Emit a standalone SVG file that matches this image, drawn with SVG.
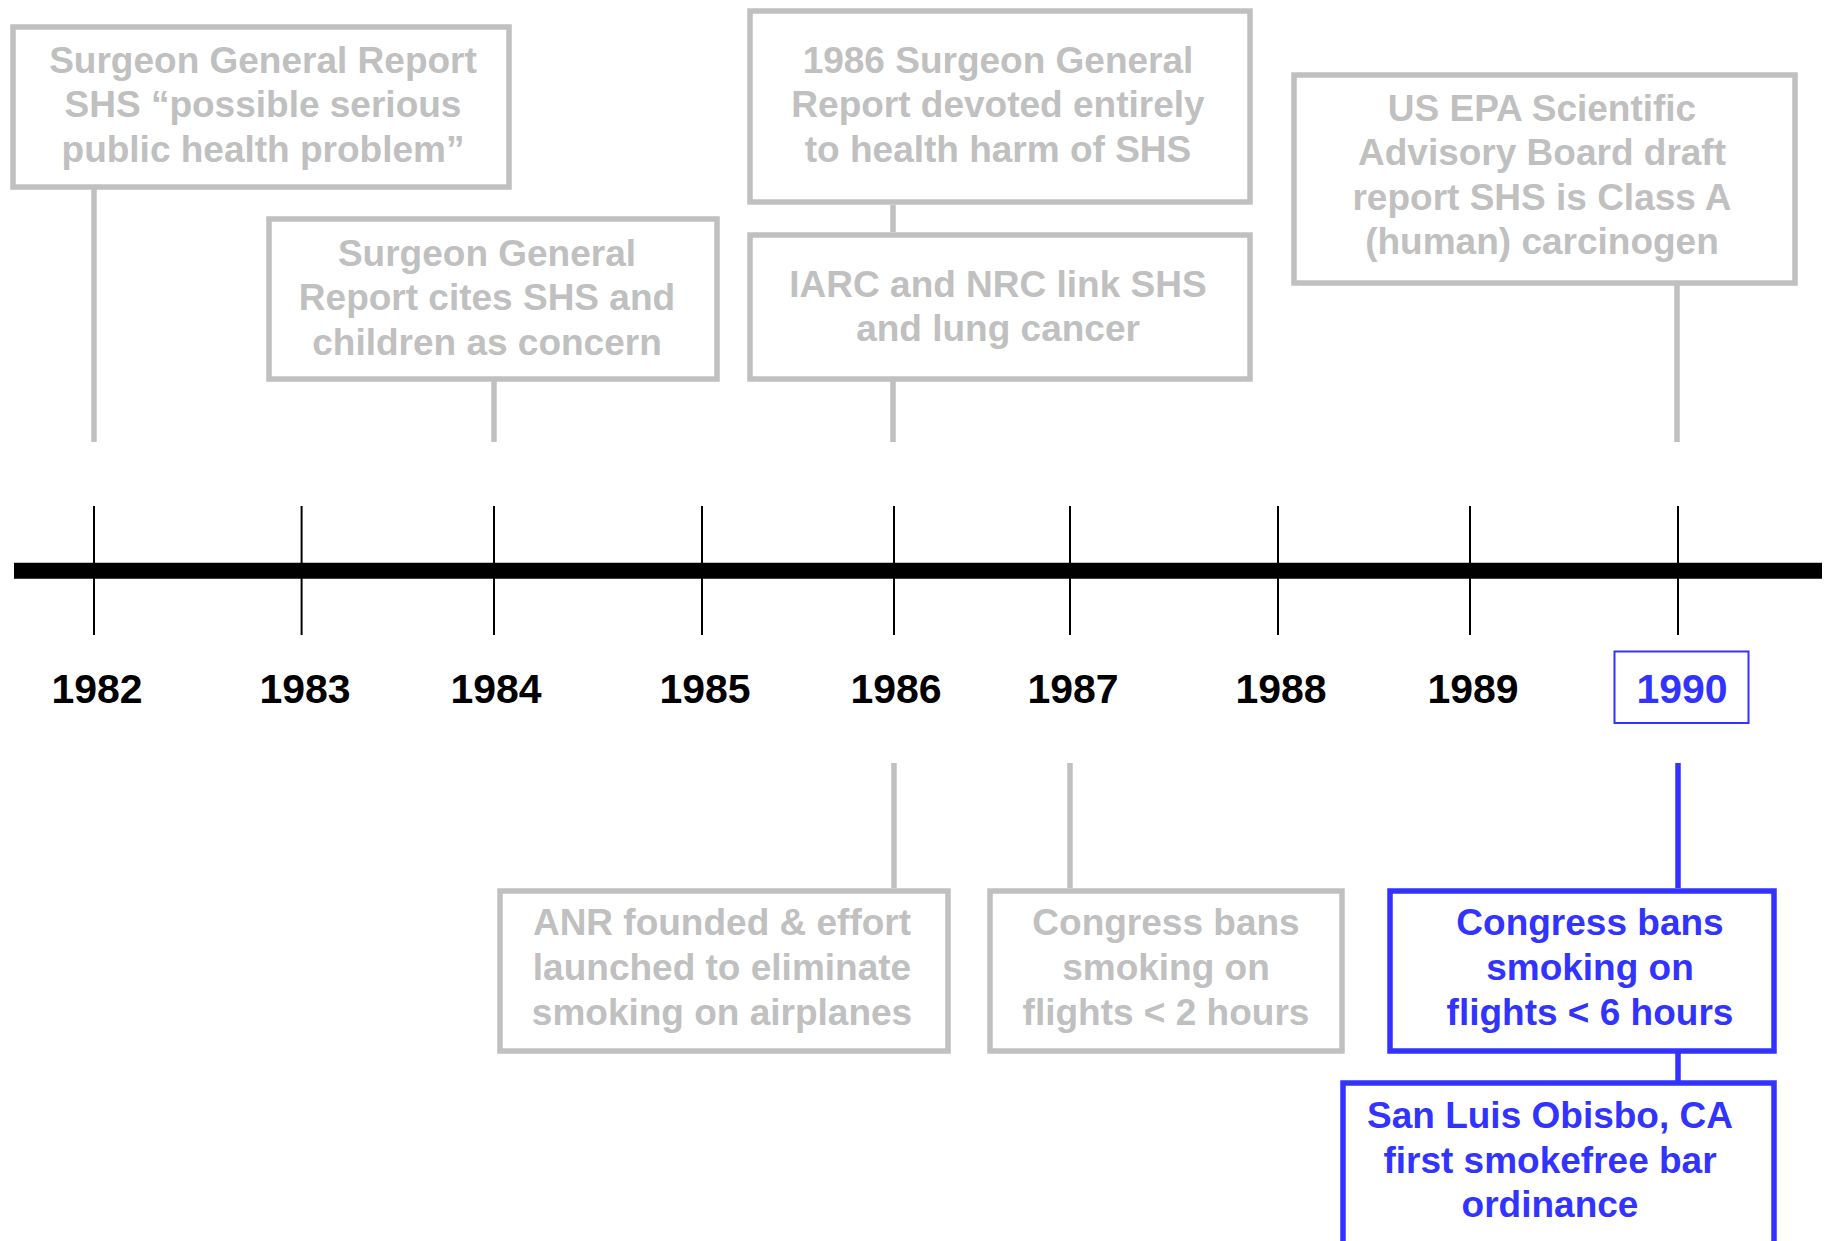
<svg xmlns="http://www.w3.org/2000/svg" width="1832" height="1241" viewBox="0 0 1832 1241">
<style>
.bg{fill:#ffffff}
.g{fill:none;stroke:#c0c0c0;stroke-width:5.5}
.b{fill:none;stroke:#3333ff;stroke-width:5.5}
.tk{stroke:#000000;stroke-width:2}
.axis{stroke:#000000;stroke-width:16}
.tg{font-family:"Liberation Sans",Arial,Helvetica,sans-serif;font-weight:bold;font-size:37px;fill:#c0c0c0;text-anchor:middle}
.tb{font-family:"Liberation Sans",Arial,Helvetica,sans-serif;font-weight:bold;font-size:37px;fill:#3333ff;text-anchor:middle}
.yr{font-family:"Liberation Sans",Arial,Helvetica,sans-serif;font-weight:bold;font-size:41px;fill:#000000;text-anchor:middle}
</style>
<rect class="bg" x="0" y="0" width="1832" height="1241"/>
<g id="timeline">
<line class="axis" x1="14" y1="570.7" x2="1822" y2="570.7"/>
<line class="tk" x1="94" y1="506" x2="94" y2="635"/>
<line class="tk" x1="301.6" y1="506" x2="301.6" y2="635"/>
<line class="tk" x1="494" y1="506" x2="494" y2="635"/>
<line class="tk" x1="702" y1="506" x2="702" y2="635"/>
<line class="tk" x1="894" y1="506" x2="894" y2="635"/>
<line class="tk" x1="1070" y1="506" x2="1070" y2="635"/>
<line class="tk" x1="1278" y1="506" x2="1278" y2="635"/>
<line class="tk" x1="1470" y1="506" x2="1470" y2="635"/>
<line class="tk" x1="1678" y1="506" x2="1678" y2="635"/>
<text class="yr" x="97" y="703">1982</text>
<text class="yr" x="305" y="703">1983</text>
<text class="yr" x="496" y="703">1984</text>
<text class="yr" x="705" y="703">1985</text>
<text class="yr" x="896" y="703">1986</text>
<text class="yr" x="1073" y="703">1987</text>
<text class="yr" x="1281" y="703">1988</text>
<text class="yr" x="1473" y="703">1989</text>
</g>
<g id="year1990">
<rect x="1614.5" y="651.5" width="134" height="71.5" fill="none" stroke="#3333ff" stroke-width="2"/>
<text class="yr" x="1682" y="703" style="fill:#3333ff">1990</text>
</g>
<g id="connectors">
<line class="g" x1="94" y1="189" x2="94" y2="442"/>
<line class="g" x1="494" y1="381" x2="494" y2="442"/>
<line class="g" x1="893" y1="205" x2="893" y2="232"/>
<line class="g" x1="893" y1="381" x2="893" y2="442"/>
<line class="g" x1="1677" y1="285" x2="1677" y2="442"/>
<line class="g" x1="894" y1="763" x2="894" y2="888"/>
<line class="g" x1="1070" y1="763" x2="1070" y2="888"/>
<line class="b" x1="1678" y1="763" x2="1678" y2="888"/>
<line class="b" x1="1678" y1="1053" x2="1678" y2="1081"/>
</g>
<g id="n1982">
<rect class="g" x="13" y="27" width="496" height="160"/>
<text class="tg" x="263" y="72.7">Surgeon General Report</text>
<text class="tg" x="263" y="117.2">SHS “possible serious</text>
<text class="tg" x="263" y="161.7">public health problem”</text>
</g>
<g id="n1984">
<rect class="g" x="269" y="219" width="448" height="160"/>
<text class="tg" x="487" y="265.5">Surgeon General</text>
<text class="tg" x="487" y="310">Report cites SHS and</text>
<text class="tg" x="487" y="354.5">children as concern</text>
</g>
<g id="n1986sg">
<rect class="g" x="750" y="11" width="500" height="191"/>
<text class="tg" x="998" y="72.7">1986 Surgeon General</text>
<text class="tg" x="998" y="117.2">Report devoted entirely</text>
<text class="tg" x="998" y="161.7">to health harm of SHS</text>
</g>
<g id="n1986iarc">
<rect class="g" x="750" y="235" width="500" height="144"/>
<text class="tg" x="998" y="296.7">IARC and NRC link SHS</text>
<text class="tg" x="998" y="341">and lung cancer</text>
</g>
<g id="n1990epa">
<rect class="g" x="1294" y="75" width="501" height="208"/>
<text class="tg" x="1542" y="120.5">US EPA Scientific</text>
<text class="tg" x="1542" y="165">Advisory Board draft</text>
<text class="tg" x="1542" y="209.5">report SHS is Class A</text>
<text class="tg" x="1542" y="254">(human) carcinogen</text>
</g>
<g id="n1986anr">
<rect class="g" x="500" y="891" width="448" height="160"/>
<text class="tg" x="722" y="935">ANR founded &amp; effort</text>
<text class="tg" x="722" y="980">launched to eliminate</text>
<text class="tg" x="722" y="1025">smoking on airplanes</text>
</g>
<g id="n1987">
<rect class="g" x="990" y="891" width="352" height="160"/>
<text class="tg" x="1166" y="935">Congress bans</text>
<text class="tg" x="1166" y="980">smoking on</text>
<text class="tg" x="1166" y="1025">flights &lt; 2 hours</text>
</g>
<g id="n1990flights">
<rect class="b" x="1390" y="891" width="384" height="160"/>
<text class="tb" x="1590" y="935">Congress bans</text>
<text class="tb" x="1590" y="980">smoking on</text>
<text class="tb" x="1590" y="1025">flights &lt; 6 hours</text>
</g>
<g id="n1990slo">
<rect class="b" x="1343" y="1083" width="431" height="200"/>
<text class="tb" x="1550" y="1128">San Luis Obisbo, CA</text>
<text class="tb" x="1550" y="1173">first smokefree bar</text>
<text class="tb" x="1550" y="1217">ordinance</text>
</g>
</svg>
